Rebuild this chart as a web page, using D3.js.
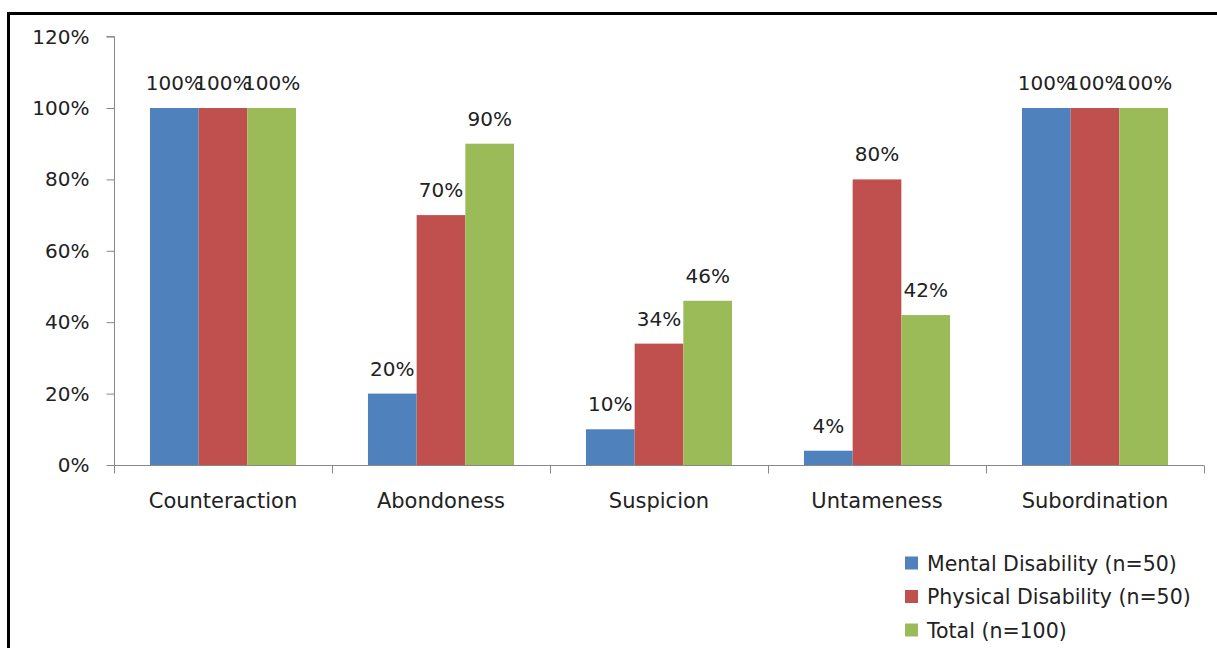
<!DOCTYPE html>
<html>
<head>
<meta charset="utf-8">
<script src="https://cdn.jsdelivr.net/npm/d3@7"></script>
<style>
  body { margin: 0; background: #fff; }
  svg { display: block; font-family: "DejaVu Sans", sans-serif; }
</style>
</head>
<body>
<svg width="1217" height="648"></svg>
<script>
var categories = ["Counteraction", "Abondoness", "Suspicion", "Untameness", "Subordination"];
var seriesNames = ["Mental Disability (n=50)", "Physical Disability (n=50)", "Total (n=100)"];
var mental = [100, 20, 10, 4, 100];
var physical = [100, 70, 34, 80, 100];
var total = [100, 90, 46, 42, 100];
var yTicks = [0, 20, 40, 60, 80, 100, 120];
var colors = ["#4f81bd", "#c0504d", "#9bbb59"];

var series = [mental, physical, total];
var svg = d3.select("svg");

// frame (top and left only)
svg.append("line").attr("x1", 8).attr("x2", 1217).attr("y1", 13.5).attr("y2", 13.5)
    .attr("stroke", "#000").attr("stroke-width", 3);
svg.append("line").attr("x1", 8.5).attr("x2", 8.5).attr("y1", 12).attr("y2", 648)
    .attr("stroke", "#000").attr("stroke-width", 3);

var x0 = d3.scaleBand().domain(categories).range([114, 1204]).paddingInner(0.33).paddingOuter(0.165);
var x1 = d3.scaleBand().domain(d3.range(3)).range([0, x0.bandwidth()]);
var y = d3.scaleLinear().domain([0, 120]).range([465, 36.6]);

// y axis
var yAxis = svg.append("g").attr("transform", "translate(114.5,0)")
    .call(d3.axisLeft(y).tickValues(yTicks).tickSize(8).tickPadding(17).tickFormat(d => d + "%"));
yAxis.select(".domain").attr("stroke", "#888").attr("d", "M-8," + y(120) + "H0V" + y(0));
yAxis.selectAll(".tick line").attr("stroke", "#888");
yAxis.selectAll("text").attr("font-size", 20).attr("fill", "#222").attr("font-family", "DejaVu Sans");

// bars
var groups = svg.selectAll("g.cat").data(categories).enter().append("g")
    .attr("class", "cat")
    .attr("transform", d => `translate(${x0(d)},0)`);

groups.selectAll("rect").data((d, i) => series.map((s, k) => ({ k: k, v: s[i] })))
    .enter().append("rect")
    .attr("x", d => x1(d.k))
    .attr("width", x1.bandwidth())
    .attr("y", d => y(d.v))
    .attr("height", d => y(0) - y(d.v))
    .attr("fill", d => colors[d.k]);

// value labels (they overlap on the 100% groups, as in the source chart)
groups.selectAll("text").data((d, i) => series.map((s, k) => ({ k: k, v: s[i] })))
    .enter().append("text")
    .attr("x", d => x1(d.k) + x1.bandwidth() / 2)
    .attr("y", d => y(d.v) - 18)
    .attr("text-anchor", "middle")
    .attr("font-size", 20)
    .attr("fill", "#222")
    .text(d => d.v + "%");

// x axis
var xAxis = svg.append("g").attr("transform", "translate(0,465.5)");
xAxis.append("line").attr("x1", 114).attr("x2", 1204).attr("stroke", "#888");
var bounds = d3.range(categories.length + 1).map(i => 114 + i * (1090 / categories.length));
xAxis.selectAll("line.tk").data(bounds).enter().append("line")
    .attr("class", "tk")
    .attr("x1", d => Math.round(d) + 0.5).attr("x2", d => Math.round(d) + 0.5)
    .attr("y1", 0).attr("y2", 8).attr("stroke", "#888");
xAxis.selectAll("text").data(categories).enter().append("text")
    .attr("x", d => x0(d) + x0.bandwidth() / 2)
    .attr("y", 42)
    .attr("text-anchor", "middle")
    .attr("font-size", 21)
    .attr("fill", "#222")
    .text(d => d);

// legend
var legend = svg.append("g").attr("transform", "translate(905,0)");
var ly = d3.scalePoint().domain(seriesNames).range([563, 630]);
legend.selectAll("rect").data(seriesNames).enter().append("rect")
    .attr("x", 0).attr("y", d => ly(d) - 6.5)
    .attr("width", 13).attr("height", 13)
    .attr("fill", (d, i) => colors[i]);
legend.selectAll("text").data(seriesNames).enter().append("text")
    .attr("x", 22).attr("y", d => ly(d) + 7.5)
    .attr("font-size", 20.5)
    .attr("fill", "#222")
    .text(d => d);
</script>
</body>
</html>
